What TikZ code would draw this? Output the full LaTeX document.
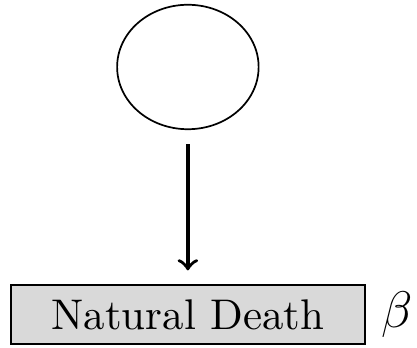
\documentclass[tikz,border=0pt]{standalone}
\usepackage{tikz}
\usepackage{amsmath}
\usetikzlibrary{shapes.geometric, arrows, positioning}

\begin{document}
\begin{tikzpicture}[node distance=2.03cm]
  \useasboundingbox (-1.54,0.549) rectangle (1.878,-2.296);
  % Nodes
  \node[draw, ellipse, minimum width=1.16cm, minimum height=1.02cm] (pop) {};
  \node[draw, rectangle, fill=gray!30, minimum width=2.9cm, minimum height=0.47cm, below of=pop] (death) {Natural Death};
  \node[inner sep=0pt, font=\fontsize{13}{15}\selectfont, right=0.12cm of death] (rate) {$\beta$};

  % Arrows
  \draw[->, thick, shorten <=0.115cm, shorten >=0.115cm] (pop) -- (death);
\end{tikzpicture}
\end{document}
